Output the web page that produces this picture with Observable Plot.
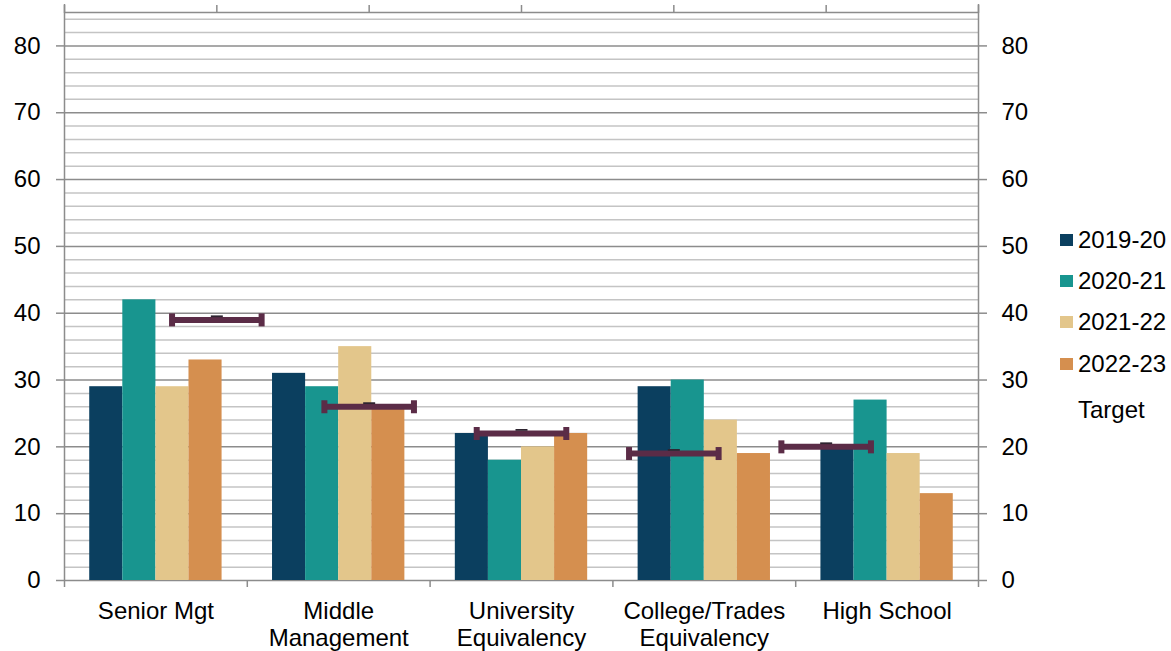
<!DOCTYPE html>
<html><head><meta charset="utf-8">
<script src="https://cdn.jsdelivr.net/npm/d3@7"></script>
<script src="https://cdn.jsdelivr.net/npm/@observablehq/plot@0.6"></script>
<style>
body{margin:0;background:#fff;font-family:"Liberation Sans",Arial,sans-serif;}
#wrap{position:relative;width:1171px;height:651px;}
#wrap svg{position:absolute;left:0;top:0;}
#legend{position:absolute;left:1060px;top:219px;}
.row{display:flex;align-items:center;height:41.3px;font-size:24px;color:#000;line-height:1;}
.row.target{margin-top:5px;}
.sw{width:13px;height:12px;margin-right:5px;flex:none;}
</style></head><body><div id="wrap"><div id="legend"></div></div>
<script>
// ---- data ----
const categories = ["Senior Mgt", "Middle\nManagement", "University\nEquivalency", "College/Trades\nEquivalency", "High School"];
const series = ["2019-20", "2020-21", "2021-22", "2022-23"];
const v2019_20 = [29, 31, 22, 29, 20];
const v2020_21 = [42, 29, 18, 30, 27];
const v2021_22 = [29, 35, 20, 24, 19];
const v2022_23 = [33, 26, 22, 19, 13];
const targets = [39, 26, 22, 19, 20];
const targetLabel = "Target";
const yMajor = [0, 10, 20, 30, 40, 50, 60, 70, 80];
const yMax = 85;

// ---- styles ----
const colors = ["#0b3f5f", "#18958f", "#e3c68b", "#d58f4f"];
const targetColor = "#5b2c47";
const gridMajor = "#8c8c8c";
const gridMinor = "#c4c4c4";
const font = "'Liberation Sans', Arial, sans-serif";

// ---- tables ----
const seriesValues = [v2019_20, v2020_21, v2021_22, v2022_23];
const barW = 0.181; // fraction of a category band per bar
const bars = [];
series.forEach((s, i) => seriesValues[i].forEach((v, k) => bars.push({series: s, idx: i, cat: k, value: v})));
const nCat = categories.length;
// secondary (target) category axis has nCat+1 intervals
const secStep = nCat / (nCat + 1);
const targetData = targets.map((t, k) => ({cat: k, value: t, xc: (k + 1) * secStep}));
const half = 0.245;
const capEnds = targetData.flatMap(d => [{x: d.xc - half, value: d.value}, {x: d.xc + half, value: d.value}]);
const minor = d3.range(2, yMax, 2).filter(v => v % 10 !== 0);

const capSymbol = {draw(ctx) { ctx.rect(-3, -6.5, 6, 13); }};
const dashSymbol = {draw(ctx) { ctx.rect(-6, -4.5, 12, 1.8); }};

const chart = Plot.plot({
  width: 1171, height: 651,
  marginLeft: 64, marginRight: 193, marginTop: 12, marginBottom: 71,
  style: {fontFamily: font, fontSize: "24px", background: "#fff", color: "#000"},
  x: {type: "linear", domain: [0, nCat]},
  y: {domain: [0, yMax]},
  color: {domain: series, range: colors},
  marks: [
    Plot.ruleY(minor, {stroke: gridMinor, strokeWidth: 1.5}),
    Plot.ruleY(yMajor, {stroke: gridMajor, strokeWidth: 1.5}),
    Plot.ruleY([yMax], {stroke: gridMajor, strokeWidth: 1.5}),
    Plot.rectY(bars, {
      x1: d => d.cat + 0.5 + (d.idx - 2) * barW,
      x2: d => d.cat + 0.5 + (d.idx - 1) * barW,
      y: "value", fill: "series"
    }),
    Plot.ruleY(targetData, {x1: d => d.xc - half, x2: d => d.xc + half, y: "value", stroke: targetColor, strokeWidth: 6}),
    Plot.dot(capEnds, {x: "x", y: "value", symbol: capSymbol, fill: targetColor, stroke: "none", r: 4}),
    Plot.dot(targetData, {x: "xc", y: "value", symbol: dashSymbol, fill: "#2e2430", stroke: "none", r: 4}),
    Plot.ruleX([0, nCat], {stroke: gridMajor, strokeWidth: 1.5, insetTop: -8}),
    Plot.axisY({anchor: "left", ticks: yMajor, tickSize: 8, tickPadding: 16, fontSize: 24, stroke: gridMajor, strokeWidth: 1.5, fill: "#000", label: null}),
    Plot.axisY({anchor: "right", ticks: yMajor, tickSize: 8, tickPadding: 15, fontSize: 24, stroke: gridMajor, strokeWidth: 1.5, fill: "#000", label: null}),
    Plot.axisX({anchor: "bottom", ticks: d3.range(0, nCat + 1), tickSize: 7, tickFormat: () => "", stroke: gridMajor, strokeWidth: 1.5, label: null}),
    Plot.axisX({anchor: "top", ticks: d3.range(0, nCat + 2).map(j => j * secStep), tickSize: 8, tickFormat: () => "", stroke: gridMajor, strokeWidth: 1.5, label: null}),
    Plot.axisX({anchor: "bottom", ticks: categories.map((c, k) => k + 0.5), tickFormat: d => categories[Math.floor(d)], tickSize: 0, tickPadding: 20, fontSize: 24, lineHeight: 1.1, fill: "#000", label: null})
  ]
});
const wrap = document.getElementById("wrap");
wrap.insertBefore(chart, wrap.firstChild);

const legend = document.getElementById("legend");
series.concat([targetLabel]).forEach((s, i) => {
  const row = document.createElement("div");
  row.className = i < colors.length ? "row" : "row target";
  const sw = document.createElement("span");
  sw.className = "sw";
  sw.style.background = i < colors.length ? colors[i] : "transparent";
  const t = document.createElement("span");
  t.textContent = s;
  row.appendChild(sw); row.appendChild(t);
  legend.appendChild(row);
});
</script></body></html>
